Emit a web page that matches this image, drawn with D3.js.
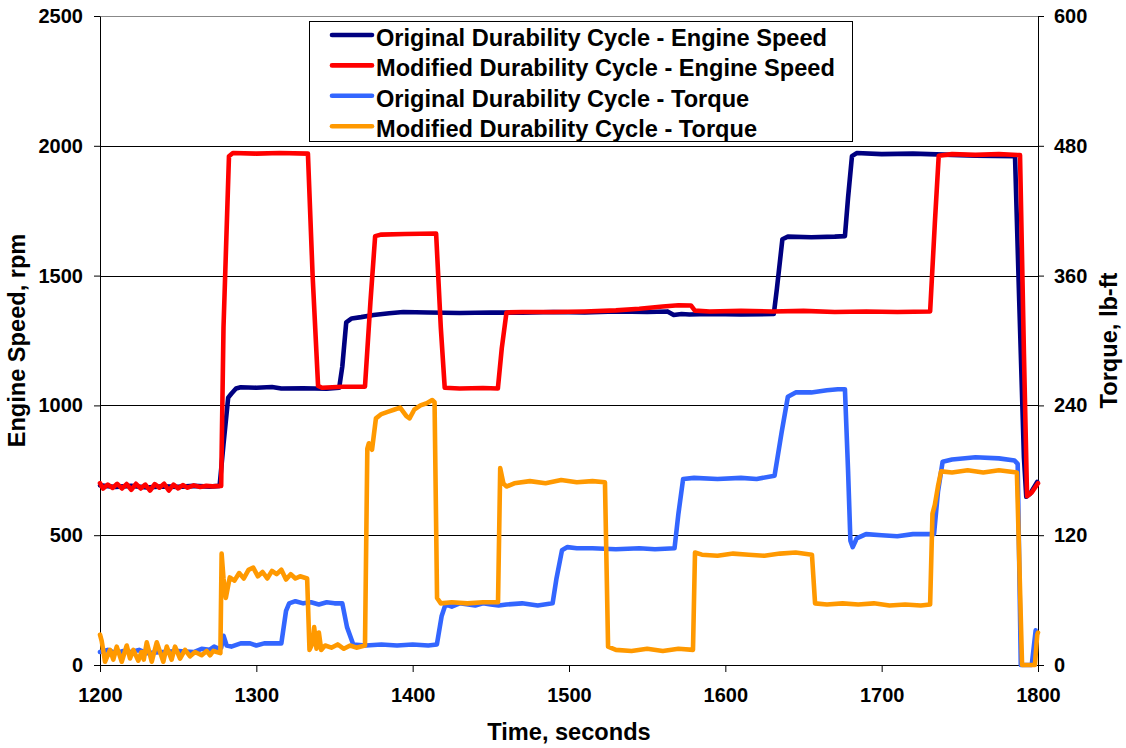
<!DOCTYPE html>
<html>
<head>
<meta charset="utf-8">
<script src="https://cdn.jsdelivr.net/npm/d3@7"></script>
<style>
    body { margin: 0; background: #fff; }
    svg { display: block; font-family: "Liberation Sans", Arial, sans-serif; font-weight: bold; }
</style>
</head>
<body>
<div id="chart"></div>
<script>
'use strict';

// [time (s), engine speed (rpm)]
const origSpeed = [
    [1200, 692], [1210, 686], [1220, 690], [1230, 684], [1240, 688], [1250, 686], [1260, 690], [1270, 687], [1276.5, 690],
    [1279, 850], [1282, 1030], [1284, 1045], [1287, 1065], [1290, 1070], [1300, 1068], [1310, 1071], [1316, 1065],
    [1330, 1066], [1345, 1064], [1353, 1068],
    [1355, 1150], [1357.5, 1320], [1361, 1335], [1367, 1340], [1375, 1348], [1385, 1355], [1394, 1360], [1410, 1358],
    [1430, 1356], [1450, 1358], [1470, 1357], [1490, 1360], [1510, 1358], [1530, 1362], [1550, 1360], [1563, 1362],
    [1567, 1348], [1572, 1352], [1577, 1350], [1590, 1352], [1610, 1350], [1631, 1352],
    [1633, 1450], [1636.5, 1640], [1640, 1650], [1655, 1648], [1670, 1650], [1676.5, 1652],
    [1678.5, 1800], [1681, 1960], [1684, 1972], [1700, 1968], [1720, 1970], [1740, 1966], [1760, 1962], [1785.3, 1960],
    [1788, 1400], [1791, 800], [1792.5, 648], [1795, 660], [1799.5, 705]
];

const modSpeed = [
    [1200, 700], [1202, 680], [1205, 695], [1208, 682], [1211, 698], [1214, 680], [1217, 697], [1220, 675], [1223, 698],
    [1226, 680], [1229, 695], [1232, 672], [1235, 697], [1238, 683], [1241, 698], [1244, 672], [1247, 695], [1250, 680],
    [1253, 693], [1256, 683], [1260, 692], [1264, 686], [1268, 690], [1272, 688], [1277.5, 690],
    [1279, 1300], [1282.5, 1960], [1285, 1972], [1300, 1970], [1315, 1972], [1333, 1970],
    [1336, 1500], [1339.5, 1075], [1342, 1068], [1355, 1072], [1369.5, 1072],
    [1373, 1400], [1376, 1652], [1380, 1658], [1395, 1660], [1415, 1662],
    [1418, 1300], [1420.5, 1068], [1430, 1065], [1445, 1067], [1454.5, 1065],
    [1457, 1220], [1460, 1358], [1470, 1360], [1490, 1360], [1510, 1362], [1530, 1366], [1545, 1372], [1560, 1381],
    [1570, 1386], [1578, 1385], [1580.5, 1365], [1590, 1362], [1610, 1364], [1630, 1362], [1650, 1364], [1670, 1360],
    [1690, 1362], [1710, 1360], [1731, 1362],
    [1734, 1700], [1736.5, 1962], [1745, 1968], [1760, 1965], [1775, 1968], [1788.5, 1964],
    [1791, 1200], [1793, 650], [1796, 665], [1800, 700]
];

// [time (s), torque (lb-ft)]
const origTorque = [
    [1200, 12], [1205, 14], [1210, 11], [1215, 13], [1220, 12], [1225, 14], [1230, 11], [1240, 12], [1250, 13],
    [1260, 12], [1265, 15], [1270, 14], [1273, 17], [1276, 15], [1277.5, 16],
    [1279, 27], [1281, 18], [1284, 17], [1290, 20], [1296, 20], [1300, 18], [1305, 20], [1310, 20], [1316, 20],
    [1319, 50], [1321, 57], [1325, 59], [1330, 57], [1335, 58], [1340, 56], [1345, 58], [1350, 57], [1355, 57],
    [1358, 35], [1362, 19], [1370, 18], [1380, 19], [1390, 18], [1400, 19], [1410, 18], [1415.5, 19],
    [1418.5, 45], [1421, 56], [1425, 54], [1430, 57], [1440, 55], [1445, 57], [1450, 56], [1455, 55], [1460, 56],
    [1470, 57], [1480, 55], [1489.5, 57],
    [1492, 80], [1495.5, 106], [1499, 109], [1505, 108], [1515, 108], [1530, 107], [1545, 108], [1555, 107], [1567.5, 108],
    [1570, 140], [1573, 172], [1580, 173], [1595, 172], [1610, 173], [1620, 172], [1631.5, 175],
    [1636, 215], [1640, 248], [1645, 252], [1655, 252], [1665, 254], [1672, 255], [1676.5, 255],
    [1678.5, 180], [1680, 115], [1681.5, 109], [1684, 117], [1690, 121], [1700, 120], [1710, 119], [1720, 121], [1733.5, 121],
    [1736, 160], [1739, 188], [1745, 190], [1760, 192], [1775, 191], [1785, 189], [1787, 186],
    [1789, 0], [1796, 0], [1798.5, 32]
];

const modTorque = [
    [1200, 28], [1201.1, 22], [1203.2, 3], [1206.4, 14], [1208.5, 5], [1210.7, 17], [1213.9, 3], [1217.1, 18],
    [1219.2, 6], [1221.3, 14], [1224.5, 4], [1226.5, 12], [1228, 5], [1229.9, 21], [1233.1, 3], [1236.3, 21],
    [1240.5, 3], [1242.7, 17], [1245.8, 5], [1248, 17], [1251.2, 6], [1254.4, 14], [1257.6, 8], [1260.8, 12],
    [1265, 9], [1268.2, 13], [1270.4, 9], [1272.5, 13], [1277, 11],
    [1277.8, 103], [1279, 80], [1280.5, 62], [1283, 81], [1286, 78], [1289, 85], [1292, 80], [1295, 88], [1298, 90],
    [1301, 82], [1304, 86], [1307, 80], [1310, 87], [1313, 84], [1316, 88], [1319, 79], [1322, 84], [1325, 80],
    [1328, 82], [1332.5, 80],
    [1334, 14], [1336, 20], [1337, 35], [1338.5, 15], [1340, 30], [1341.5, 14], [1344, 18], [1348, 16], [1352, 19],
    [1356, 15], [1360, 18], [1364, 16], [1369.5, 18],
    [1371, 200], [1372, 205], [1374, 199], [1376.5, 228], [1380, 232], [1384, 234], [1388, 236], [1392, 238],
    [1396, 230], [1398, 228], [1401, 236], [1405, 240], [1409, 242], [1412.5, 245], [1414, 243],
    [1415.6, 62], [1418, 57], [1425, 58], [1435, 57], [1445, 58], [1454.6, 58],
    [1456, 182], [1458, 168], [1460, 165], [1465, 168], [1475, 170], [1485, 168], [1495, 171], [1505, 169],
    [1515, 170], [1523, 169],
    [1525, 17], [1530, 14], [1540, 13], [1550, 15], [1560, 13], [1570, 15], [1579.3, 14],
    [1580.6, 104], [1585, 102], [1595, 101], [1605, 103], [1615, 102], [1625, 101], [1635, 103], [1645, 104], [1655.4, 102],
    [1657.4, 57], [1665, 56], [1675, 57], [1685, 56], [1695, 57], [1705, 55], [1715, 56], [1725, 55], [1731, 56],
    [1732.5, 140], [1734, 148], [1736, 165], [1738, 179], [1745, 178], [1755, 180], [1765, 178], [1775, 180], [1786.5, 178],
    [1789.8, 0], [1798, 0], [1799.5, 28], [1800, 30]
];

const timeTicks = [1200, 1300, 1400, 1500, 1600, 1700, 1800];
const speedTicks = [0, 500, 1000, 1500, 2000, 2500];
const torqueTicks = [0, 120, 240, 360, 480, 600];

const seriesNames = [
    'Original Durability Cycle - Engine Speed',
    'Modified Durability Cycle - Engine Speed',
    'Original Durability Cycle - Torque',
    'Modified Durability Cycle - Torque'
];
const seriesColors = ['#000080', '#FF0000', '#3366FF', '#FF9900'];

let width = 1126,
    height = 748,
    plot = {left: 100, right: 1038, top: 16, bottom: 665},
    tickFont = 20,
    titleFont = 23.6,
    lineWidth = 4.6;

let svg = d3.select('#chart')
    .append('svg')
    .attr('width', width)
    .attr('height', height);

let x = d3.scaleLinear().domain([1200, 1800]).range([plot.left, plot.right]),
    ySpeed = d3.scaleLinear().domain([0, 2500]).range([plot.bottom, plot.top]),
    yTorque = d3.scaleLinear().domain([0, 600]).range([plot.bottom, plot.top]);

// gridlines follow the primary axis
svg.append('g')
    .classed('grid', true)
    .selectAll('line')
    .data(speedTicks.filter(d => d > 0))
    .join('line')
    .attr('x1', plot.left)
    .attr('x2', plot.right)
    .attr('y1', d => Math.round(ySpeed(d)) + 0.5)
    .attr('y2', d => Math.round(ySpeed(d)) + 0.5)
    .attr('stroke', d => d === 2500 ? '#888' : '#000')
    .attr('stroke-width', 1);

/**
 * Applies the common look to an axis group
 */
function styleAxis(g) {
    g.selectAll('path, line').attr('stroke', '#000');
    g.selectAll('text')
        .attr('fill', '#000')
        .style('font-size', tickFont + 'px')
        .style('font-weight', 'bold');
}

svg.append('g')
    .attr('transform', `translate(0,${plot.bottom})`)
    .call(d3.axisBottom(x).tickValues(timeTicks).tickFormat(d3.format('d'))
        .tickSizeInner(7).tickSizeOuter(0).tickPadding(16))
    .call(styleAxis);

svg.append('g')
    .attr('transform', `translate(${plot.left},0)`)
    .call(d3.axisLeft(ySpeed).tickValues(speedTicks).tickFormat(d3.format('d'))
        .tickSizeInner(6).tickSizeOuter(0).tickPadding(11))
    .call(styleAxis);

svg.append('g')
    .attr('transform', `translate(${plot.right},0)`)
    .call(d3.axisRight(yTorque).tickValues(torqueTicks).tickFormat(d3.format('d'))
        .tickSizeInner(6).tickSizeOuter(0).tickPadding(10))
    .call(styleAxis);

// series lines
let speedLine = d3.line().x(d => x(d[0])).y(d => ySpeed(d[1])),
    torqueLine = d3.line().x(d => x(d[0])).y(d => yTorque(d[1]));

let series = [
    {data: origSpeed, line: speedLine},
    {data: modSpeed, line: speedLine},
    {data: origTorque, line: torqueLine},
    {data: modTorque, line: torqueLine}
];

svg.append('g')
    .classed('series', true)
    .selectAll('path')
    .data(series)
    .join('path')
    .attr('d', d => d.line(d.data))
    .attr('fill', 'none')
    .attr('stroke', (d, i) => seriesColors[i])
    .attr('stroke-width', lineWidth)
    .attr('stroke-linejoin', 'round')
    .attr('stroke-linecap', 'round');

// axis titles
svg.append('text')
    .attr('transform', `translate(24.5,${(plot.top + plot.bottom) / 2}) rotate(-90)`)
    .attr('text-anchor', 'middle')
    .style('font-size', titleFont + 'px')
    .text('Engine Speed, rpm');

svg.append('text')
    .attr('transform', `translate(1117,${(plot.top + plot.bottom) / 2}) rotate(-90)`)
    .attr('text-anchor', 'middle')
    .style('font-size', titleFont + 'px')
    .text('Torque, lb-ft');

svg.append('text')
    .attr('x', (plot.left + plot.right) / 2)
    .attr('y', 740)
    .attr('text-anchor', 'middle')
    .style('font-size', titleFont + 'px')
    .text('Time, seconds');

// legend
let legend = svg.append('g')
    .classed('legend', true);

legend.append('rect')
    .attr('x', 309.5)
    .attr('y', 21.5)
    .attr('width', 543)
    .attr('height', 120)
    .attr('fill', '#fff')
    .attr('stroke', '#000')
    .attr('stroke-width', 1);

let legendItem = legend.selectAll('g')
    .data(seriesNames)
    .join('g')
    .attr('transform', (d, i) => `translate(0,${35 + i * 30.4})`);

legendItem.append('line')
    .attr('x1', 332)
    .attr('x2', 372)
    .attr('stroke', (d, i) => seriesColors[i])
    .attr('stroke-width', lineWidth)
    .attr('stroke-linecap', 'round');

legendItem.append('text')
    .attr('x', 376)
    .attr('y', 11)
    .style('font-size', titleFont + 'px')
    .text(d => d);
</script>
</body>
</html>
